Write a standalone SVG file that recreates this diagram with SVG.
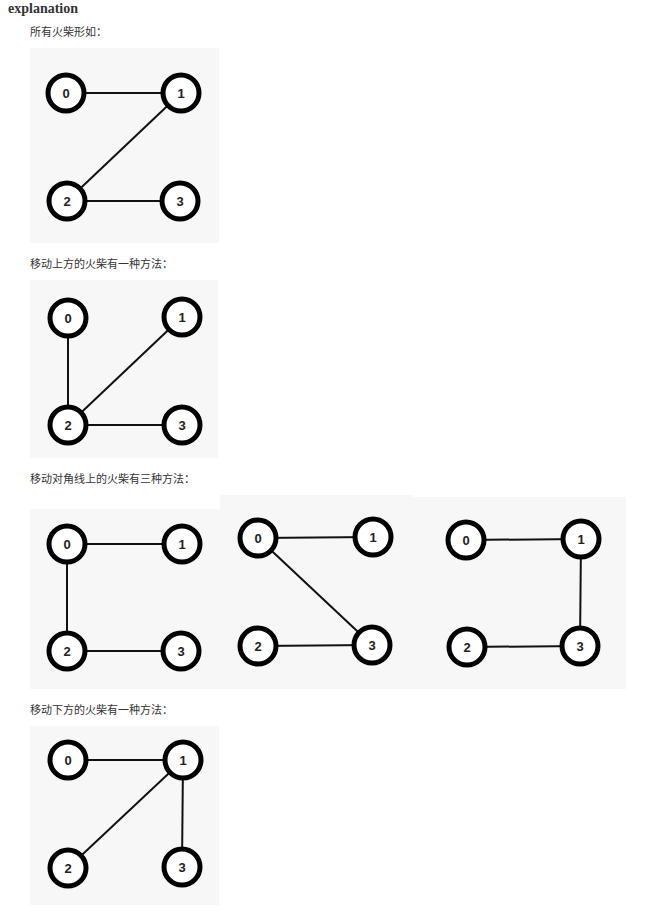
<svg xmlns="http://www.w3.org/2000/svg" width="654" height="913" viewBox="0 0 654 913">
<style>
.bg{fill:#f7f7f7}
.h{font-family:"Liberation Serif",serif;font-weight:bold;font-size:14px;fill:#333}
.cap{font-family:"Liberation Sans","Noto Sans CJK SC",sans-serif;font-size:11px;fill:#333}
.n circle{fill:#fff;stroke:#000;stroke-width:5}
.n text{font-family:"Liberation Sans",sans-serif;font-weight:bold;font-size:13px;fill:#222;text-anchor:middle;dominant-baseline:central}
.e line{stroke:#111;stroke-width:2}
</style>
<rect width="654" height="913" fill="#fff"/>
<text class="h" x="8" y="13">explanation</text>

<text class="cap" x="30" y="36">所有火柴形如：</text>
<rect class="bg" x="30" y="48" width="189" height="195"/>
<g id="p1-edges" class="e">
<line x1="66" y1="93" x2="181" y2="93"/>
<line x1="181" y1="93" x2="67" y2="201"/>
<line x1="67" y1="201" x2="180" y2="201"/>
</g>
<g id="p1-n0" class="n"><circle cx="66" cy="93" r="18"/><text x="66" y="93">0</text></g>
<g id="p1-n1" class="n"><circle cx="181" cy="93" r="18"/><text x="181" y="93">1</text></g>
<g id="p1-n2" class="n"><circle cx="67" cy="201" r="18"/><text x="67" y="201">2</text></g>
<g id="p1-n3" class="n"><circle cx="180" cy="201" r="18"/><text x="180" y="201">3</text></g>

<text class="cap" x="30" y="268">移动上方的火柴有一种方法：</text>
<rect class="bg" x="30" y="280" width="188" height="178"/>
<g id="p2-edges" class="e">
<line x1="68" y1="318" x2="68" y2="425"/>
<line x1="182" y1="317" x2="68" y2="425"/>
<line x1="68" y1="425" x2="182" y2="425"/>
</g>
<g id="p2-n0" class="n"><circle cx="68" cy="318" r="18"/><text x="68" y="318">0</text></g>
<g id="p2-n1" class="n"><circle cx="182" cy="317" r="18"/><text x="182" y="317">1</text></g>
<g id="p2-n2" class="n"><circle cx="68" cy="425" r="18"/><text x="68" y="425">2</text></g>
<g id="p2-n3" class="n"><circle cx="182" cy="425" r="18"/><text x="182" y="425">3</text></g>

<text class="cap" x="30" y="483">移动对角线上的火柴有三种方法：</text>
<rect class="bg" x="30" y="509" width="190" height="180"/>
<rect class="bg" x="220" y="495" width="193" height="194"/>
<rect class="bg" x="413" y="497" width="213" height="192"/>
<g id="p3-edges" class="e">
<line x1="67" y1="544" x2="182" y2="544"/>
<line x1="67" y1="544" x2="67" y2="651"/>
<line x1="67" y1="651" x2="181" y2="651"/>
<line x1="258" y1="538" x2="373" y2="537"/>
<line x1="258" y1="538" x2="372" y2="645"/>
<line x1="258" y1="646" x2="372" y2="645"/>
<line x1="466" y1="540" x2="581" y2="539"/>
<line x1="581" y1="539" x2="580" y2="646"/>
<line x1="467" y1="647" x2="580" y2="646"/>
</g>
<g id="p3a-n0" class="n"><circle cx="67" cy="544" r="18"/><text x="67" y="544">0</text></g>
<g id="p3a-n1" class="n"><circle cx="182" cy="544" r="18"/><text x="182" y="544">1</text></g>
<g id="p3a-n2" class="n"><circle cx="67" cy="651" r="18"/><text x="67" y="651">2</text></g>
<g id="p3a-n3" class="n"><circle cx="181" cy="651" r="18"/><text x="181" y="651">3</text></g>
<g id="p3b-n0" class="n"><circle cx="258" cy="538" r="18"/><text x="258" y="538">0</text></g>
<g id="p3b-n1" class="n"><circle cx="373" cy="537" r="18"/><text x="373" y="537">1</text></g>
<g id="p3b-n2" class="n"><circle cx="258" cy="646" r="18"/><text x="258" y="646">2</text></g>
<g id="p3b-n3" class="n"><circle cx="372" cy="645" r="18"/><text x="372" y="645">3</text></g>
<g id="p3c-n0" class="n"><circle cx="466" cy="540" r="18"/><text x="466" y="540">0</text></g>
<g id="p3c-n1" class="n"><circle cx="581" cy="539" r="18"/><text x="581" y="539">1</text></g>
<g id="p3c-n2" class="n"><circle cx="467" cy="647" r="18"/><text x="467" y="647">2</text></g>
<g id="p3c-n3" class="n"><circle cx="580" cy="646" r="18"/><text x="580" y="646">3</text></g>

<text class="cap" x="30" y="714">移动下方的火柴有一种方法：</text>
<rect class="bg" x="30" y="726" width="189" height="179"/>
<g id="p4-edges" class="e">
<line x1="68" y1="760" x2="183" y2="760"/>
<line x1="183" y1="760" x2="68" y2="868"/>
<line x1="183" y1="760" x2="182" y2="867"/>
</g>
<g id="p4-n0" class="n"><circle cx="68" cy="760" r="18"/><text x="68" y="760">0</text></g>
<g id="p4-n1" class="n"><circle cx="183" cy="760" r="18"/><text x="183" y="760">1</text></g>
<g id="p4-n2" class="n"><circle cx="68" cy="868" r="18"/><text x="68" y="868">2</text></g>
<g id="p4-n3" class="n"><circle cx="182" cy="867" r="18"/><text x="182" y="867">3</text></g>
</svg>
